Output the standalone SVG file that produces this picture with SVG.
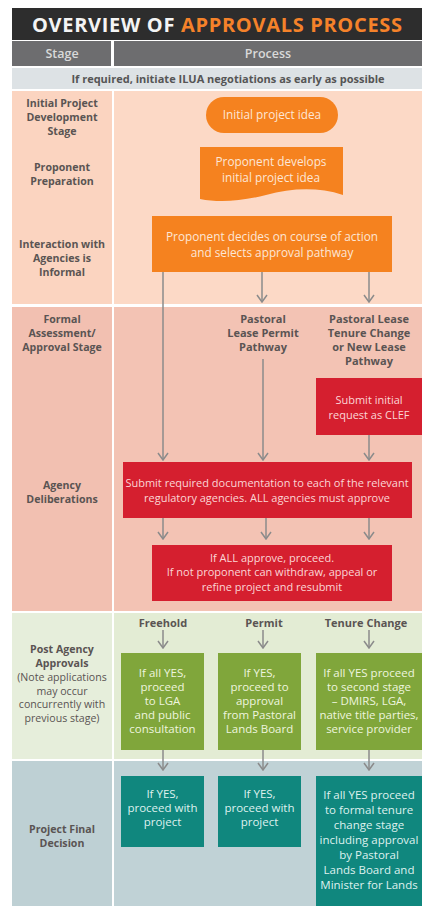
<svg xmlns="http://www.w3.org/2000/svg" width="422" height="906" viewBox="0 0 422 906">
  <style>
    text { font-family: "Open Sans", Lato, "Liberation Sans", sans-serif; text-anchor: middle; }
    .stage { font-size: 10.6px; font-weight: 700; fill: #5a5453; }
    .note { font-size: 10.6px; font-weight: 400; fill: #5a5453; }
    .path-label { font-size: 11px; font-weight: 700; fill: #5a5453; }
    .box-text { font-size: 11.8px; fill: #fde6d6; }
    .red-text { font-size: 11px; fill: #fbd6d6; }
    .green-text { font-size: 11.5px; fill: #eef5df; }
    .teal-text { font-size: 11.5px; fill: #dff1ee; }
    .orange { fill: #f5821f; }
    .red { fill: #d51f2f; }
    .green { fill: #80a63b; }
    .teal { fill: #10877e; }
    .conn { stroke: #8b8b8b; stroke-width: 1.5; fill: none; }
  </style>
  <defs>
    <marker id="chev" viewBox="-1 -6 9 12" refX="7" refY="0" markerWidth="9" markerHeight="12" markerUnits="userSpaceOnUse" orient="auto">
      <path d="M0,-5 L7,0 L0,5" fill="none" stroke="#8b8b8b" stroke-width="1.5"/>
    </marker>
  </defs>

  <rect width="422" height="906" fill="#ffffff"/>

  <!-- title bar -->
  <rect x="12" y="8" width="410" height="32" fill="#2d2d2d"/>
  <text x="217" y="32" font-size="20" font-weight="700" fill="#f4f4f4" textLength="370">OVERVIEW OF <tspan fill="#f5822a">APPROVALS PROCESS</tspan></text>

  <!-- column headings -->
  <rect x="12" y="41" width="99" height="25" fill="#6d6d6f"/>
  <rect x="114" y="41" width="308" height="25" fill="#6d6d6f"/>
  <text x="62" y="58" font-size="12.5" font-weight="600" fill="#d9d9d9">Stage</text>
  <text x="268" y="58" font-size="12.5" font-weight="600" fill="#d9d9d9">Process</text>

  <!-- ILUA banner -->
  <rect x="12" y="68" width="410" height="21" fill="#dde2e5"/>
  <text x="228" y="82.5" font-size="11" font-weight="700" fill="#555555">If required, initiate ILUA negotiations as early as possible</text>

  <!-- stage bands -->
  <rect x="12" y="91" width="100" height="213" fill="#fbd4c0"/>
  <rect x="114" y="91" width="308" height="213" fill="#fcd9c6"/>
  <rect x="12" y="307" width="100" height="304" fill="#f2c0b1"/>
  <rect x="114" y="307" width="308" height="304" fill="#f3c3b4"/>
  <rect x="12" y="613" width="100" height="146" fill="#e6eedb"/>
  <rect x="114" y="613" width="308" height="146" fill="#e3ecd4"/>
  <rect x="12" y="761" width="100" height="145" fill="#bed0d4"/>
  <rect x="114" y="761" width="308" height="145" fill="#c0d2d6"/>

  <!-- stage column labels -->
  <g id="stage-initial">
    <text class="stage" x="62" y="107">Initial Project</text>
    <text class="stage" x="62" y="121">Development</text>
    <text class="stage" x="62" y="135">Stage</text>
  </g>
  <g id="stage-preparation">
    <text class="stage" x="62" y="171">Proponent</text>
    <text class="stage" x="62" y="185">Preparation</text>
  </g>
  <g id="stage-informal">
    <text class="stage" x="62" y="248">Interaction with</text>
    <text class="stage" x="62" y="262">Agencies is</text>
    <text class="stage" x="62" y="276">Informal</text>
  </g>
  <g id="stage-formal">
    <text class="stage" x="62" y="323">Formal</text>
    <text class="stage" x="62" y="337">Assessment/</text>
    <text class="stage" x="62" y="351">Approval Stage</text>
  </g>
  <g id="stage-deliberations">
    <text class="stage" x="62" y="489">Agency</text>
    <text class="stage" x="62" y="503">Deliberations</text>
  </g>
  <g id="stage-post">
    <text class="stage" x="62" y="653">Post Agency</text>
    <text class="stage" x="62" y="667">Approvals</text>
    <text class="note" x="62" y="681">(Note applications</text>
    <text class="note" x="62" y="695">may occur</text>
    <text class="note" x="62" y="708">concurrently with</text>
    <text class="note" x="62" y="722">previous stage)</text>
  </g>
  <g id="stage-final">
    <text class="stage" x="62" y="833">Project Final</text>
    <text class="stage" x="62" y="847">Decision</text>
  </g>

  <!-- connectors -->
  <g id="connectors" class="conn">
    <line x1="163" y1="272" x2="163" y2="460" marker-end="url(#chev)"/>
    <line x1="262" y1="272" x2="262" y2="302" marker-end="url(#chev)"/>
    <line x1="369" y1="272" x2="369" y2="302" marker-end="url(#chev)"/>
    <line x1="263" y1="359" x2="263" y2="460" marker-end="url(#chev)"/>
    <line x1="369" y1="435" x2="369" y2="460" marker-end="url(#chev)"/>
    <line x1="163" y1="518" x2="163" y2="539" marker-end="url(#chev)"/>
    <line x1="266" y1="518" x2="266" y2="539" marker-end="url(#chev)"/>
    <line x1="369" y1="518" x2="369" y2="539" marker-end="url(#chev)"/>
    <line x1="163" y1="630" x2="163" y2="648" marker-end="url(#chev)"/>
    <line x1="263" y1="630" x2="263" y2="648" marker-end="url(#chev)"/>
    <line x1="369" y1="630" x2="369" y2="648" marker-end="url(#chev)"/>
    <line x1="163" y1="750" x2="163" y2="770" marker-end="url(#chev)"/>
    <line x1="263" y1="750" x2="263" y2="770" marker-end="url(#chev)"/>
    <line x1="369" y1="750" x2="369" y2="770" marker-end="url(#chev)"/>
  </g>

  <!-- process nodes -->
  <g id="node-idea">
    <rect class="orange" x="206" y="97" width="132" height="36" rx="18"/>
    <text class="box-text" x="272" y="119">Initial project idea</text>
  </g>
  <g id="node-develops">
    <path class="orange" d="M200,147 H343 V195 C318,187 292,188 266,195 C242,201 220,203 200,199 Z"/>
    <text class="box-text" x="271" y="166">Proponent develops</text>
    <text class="box-text" x="271" y="182">initial project idea</text>
  </g>
  <g id="node-decides">
    <rect class="orange" x="152" y="216" width="240" height="56"/>
    <text class="box-text" x="272" y="241">Proponent decides on course of action</text>
    <text class="box-text" x="272" y="257">and selects approval pathway</text>
  </g>
  <g id="label-permit-pathway">
    <text class="path-label" x="263" y="323">Pastoral</text>
    <text class="path-label" x="263" y="337">Lease Permit</text>
    <text class="path-label" x="263" y="351">Pathway</text>
  </g>
  <g id="label-tenure-pathway">
    <text class="path-label" x="369" y="323">Pastoral Lease</text>
    <text class="path-label" x="369" y="337">Tenure Change</text>
    <text class="path-label" x="369" y="351">or New Lease</text>
    <text class="path-label" x="369" y="365">Pathway</text>
  </g>
  <g id="node-clef">
    <rect class="red" x="316" y="378" width="106" height="57"/>
    <text class="red-text" x="369" y="404">Submit initial</text>
    <text class="red-text" x="369" y="419">request as CLEF</text>
  </g>
  <g id="node-submit">
    <rect class="red" x="123" y="462" width="289" height="56"/>
    <text class="red-text" x="267" y="487">Submit required documentation to each of the relevant</text>
    <text class="red-text" x="267" y="502">regulatory agencies. ALL agencies must approve</text>
  </g>
  <g id="node-approve">
    <rect class="red" x="152" y="545" width="240" height="56"/>
    <text class="red-text" x="272" y="562">If ALL approve, proceed.</text>
    <text class="red-text" x="272" y="576">If not proponent can withdraw, appeal or</text>
    <text class="red-text" x="272" y="591">refine project and resubmit</text>
  </g>

  <!-- post agency approvals -->
  <g id="label-freehold"><text class="path-label" x="163" y="627">Freehold</text></g>
  <g id="label-permit"><text class="path-label" x="264" y="627">Permit</text></g>
  <g id="label-tenure"><text class="path-label" x="366" y="627">Tenure Change</text></g>
  <g id="node-freehold">
    <rect class="green" x="121" y="653" width="83" height="97"/>
    <text class="green-text" x="162.5" y="677">If all YES,</text>
    <text class="green-text" x="162.5" y="691">proceed</text>
    <text class="green-text" x="162.5" y="705">to LGA</text>
    <text class="green-text" x="162.5" y="719">and public</text>
    <text class="green-text" x="162.5" y="733">consultation</text>
  </g>
  <g id="node-permit">
    <rect class="green" x="218" y="653" width="83" height="97"/>
    <text class="green-text" x="259.5" y="677">If YES,</text>
    <text class="green-text" x="259.5" y="691">proceed to</text>
    <text class="green-text" x="259.5" y="705">approval</text>
    <text class="green-text" x="259.5" y="719">from Pastoral</text>
    <text class="green-text" x="259.5" y="733">Lands Board</text>
  </g>
  <g id="node-tenure">
    <rect class="green" x="316" y="653" width="106" height="97"/>
    <text class="green-text" x="369" y="677">If all YES proceed</text>
    <text class="green-text" x="369" y="691">to second stage</text>
    <text class="green-text" x="369" y="705">– DMIRS, LGA,</text>
    <text class="green-text" x="369" y="719">native title parties,</text>
    <text class="green-text" x="369" y="733">service provider</text>
  </g>

  <!-- final decision -->
  <g id="node-final-freehold">
    <rect class="teal" x="121" y="776" width="83" height="71"/>
    <text class="teal-text" x="162.5" y="798">If YES,</text>
    <text class="teal-text" x="162.5" y="812">proceed with</text>
    <text class="teal-text" x="162.5" y="826">project</text>
  </g>
  <g id="node-final-permit">
    <rect class="teal" x="218" y="776" width="83" height="71"/>
    <text class="teal-text" x="259.5" y="798">If YES,</text>
    <text class="teal-text" x="259.5" y="812">proceed with</text>
    <text class="teal-text" x="259.5" y="826">project</text>
  </g>
  <g id="node-final-tenure">
    <rect class="teal" x="316" y="776" width="106" height="130"/>
    <text class="teal-text" x="369" y="799">If all YES proceed</text>
    <text class="teal-text" x="369" y="814">to formal tenure</text>
    <text class="teal-text" x="369" y="829">change stage</text>
    <text class="teal-text" x="369" y="844">including approval</text>
    <text class="teal-text" x="369" y="859">by Pastoral</text>
    <text class="teal-text" x="369" y="874">Lands Board and</text>
    <text class="teal-text" x="369" y="889">Minister for Lands</text>
  </g>
</svg>
